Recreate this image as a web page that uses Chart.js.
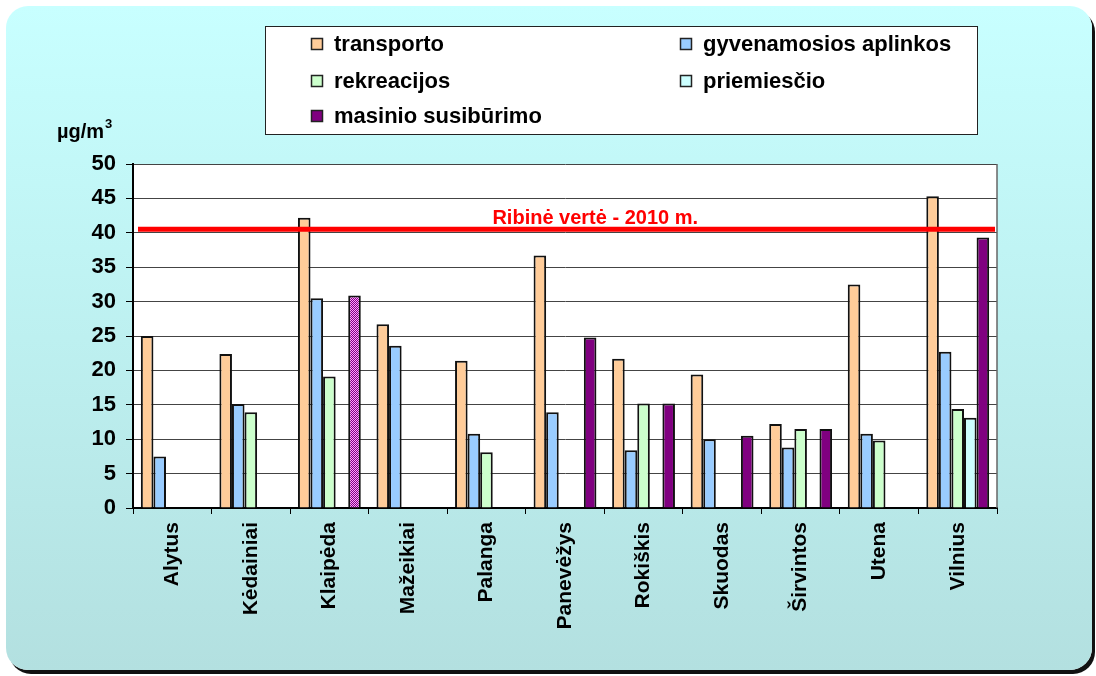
<!DOCTYPE html>
<html>
<head>
<meta charset="utf-8">
<script src="https://cdn.jsdelivr.net/npm/chart.js@4.4.1/dist/chart.umd.min.js"></script>
<style>
  html, body { margin: 0; padding: 0; background: #fff; }
  #wrap { position: relative; width: 1096px; height: 676px; overflow: hidden; }
  #frame {
    position: absolute; left: 6px; top: 6px; width: 1086px; height: 664px;
    border-radius: 22px;
    background: linear-gradient(to bottom, #c8ffff 0%, #bdf0f0 50%, #b3e0e0 100%);
    box-shadow: 3px 4px 0 #111;
  }
  #myChart { position: absolute; left: 0; top: 0; }
</style>
</head>
<body>
<div id="wrap">
  <div id="frame"></div>
  <canvas id="myChart" width="1096" height="676"></canvas>
</div>
<script>
const cities = ['Alytus', 'Kėdainiai', 'Klaipėda', 'Mažeikiai', 'Palanga', 'Panevėžys', 'Rokiškis', 'Skuodas', 'Širvintos', 'Utena', 'Vilnius'];
const transporto = [25.0, 22.4, 42.2, 26.7, 21.4, 36.7, 21.7, 19.4, 12.2, 32.5, 45.3];
const gyvenamosios = [7.5, 15.1, 30.5, 23.6, 10.8, 13.9, 8.4, 10.0, 8.8, 10.8, 22.7];
const rekreacijos = [null, 13.9, 19.1, null, 8.1, null, 15.2, null, 11.5, 9.8, 14.4];
const priemiescio = [null, null, null, null, null, null, null, null, null, null, 13.1];
const masinio = [null, null, 30.9, null, null, 24.8, 15.2, 10.5, 11.5, null, 39.3];
const yTicks = [0, 5, 10, 15, 20, 25, 30, 35, 40, 45, 50];
const limitValue = 40.5;
const limitLabel = 'Ribinė vertė - 2010 m.';
const unitLabel = 'µg/m';
const hatchedIndex = 2; // Klaipėda masinio bar is hatched

Chart.defaults.font.family = '"Liberation Sans", Arial, sans-serif';
Chart.defaults.color = '#000';

// checker pattern for the hatched bar
function makeHatch() {
  const c = document.createElement('canvas');
  c.width = 2; c.height = 2;
  const g = c.getContext('2d');
  g.fillStyle = '#800080'; g.fillRect(0, 0, 2, 2);
  g.fillStyle = '#ff9cff'; g.fillRect(0, 0, 1, 1); g.fillRect(1, 1, 1, 1);
  return g.createPattern(c, 'repeat');
}
const hatch = makeHatch();

const colors = ['#ffcc99', '#99ccff', '#ccffcc', '#ccffff', '#800080'];

const chartDecor = {
  id: 'chartDecor',
  beforeDraw(chart) {
    const { ctx, chartArea: a } = chart;
    ctx.save();
    ctx.fillStyle = '#fff';
    ctx.fillRect(a.left, a.top, a.right - a.left, a.bottom - a.top);
    ctx.restore();
  },
  beforeDatasetsDraw(chart) {
    const { ctx, chartArea: a } = chart;
    ctx.save();
    ctx.strokeStyle = '#666';
    ctx.lineWidth = 1.5;
    ctx.beginPath();
    ctx.moveTo(a.right, a.top);
    ctx.lineTo(a.right, a.bottom);
    ctx.stroke();
    ctx.restore();
  },
  afterDatasetsDraw(chart) {
    const { ctx, chartArea: a, scales } = chart;
    const y = scales.y.getPixelForValue(limitValue);
    ctx.save();
    ctx.strokeStyle = '#ff0000';
    ctx.lineWidth = 5;
    ctx.beginPath();
    ctx.moveTo(a.left + 5, y);
    ctx.lineTo(a.right - 2, y);
    ctx.stroke();
    ctx.fillStyle = '#ff0000';
    ctx.font = 'bold 20px "Liberation Sans", Arial, sans-serif';
    ctx.textAlign = 'center';
    ctx.textBaseline = 'alphabetic';
    ctx.fillText(limitLabel, a.left + (a.right - a.left) * 0.535, y - 5);

    // unit label
    ctx.fillStyle = '#000';
    ctx.textAlign = 'left';
    ctx.font = 'bold 20px "Liberation Sans", Arial, sans-serif';
    ctx.fillText(unitLabel, 57, 138);
    const w = ctx.measureText(unitLabel).width;
    ctx.font = 'bold 13px "Liberation Sans", Arial, sans-serif';
    ctx.fillText('3', 57 + w + 1, 128);

    // legend box
    ctx.fillStyle = '#fff';
    ctx.fillRect(265, 26, 713, 109);
    ctx.strokeStyle = '#222';
    ctx.lineWidth = 1;
    ctx.strokeRect(265.5, 26.5, 712, 108);
    const pos = [[311, 44], [680, 44], [311, 81], [680, 81], [311, 116]];
    ctx.font = 'bold 22px "Liberation Sans", Arial, sans-serif';
    ctx.textBaseline = 'middle';
    chart.data.datasets.forEach((ds, i) => {
      const [x, cy] = pos[i];
      ctx.fillStyle = colors[i];
      ctx.fillRect(x, cy - 6, 12, 12);
      ctx.strokeStyle = '#222';
      ctx.lineWidth = 1.5;
      ctx.strokeRect(x + 0.5, cy - 5.5, 11, 11);
      ctx.fillStyle = '#000';
      ctx.fillText(ds.label, x + 23, cy + 1);
    });
    ctx.restore();
  }
};

function ds(label, data, i) {
  return {
    label: label,
    data: data,
    backgroundColor: i === 4 ? (c) => (c.dataIndex === hatchedIndex ? hatch : colors[i]) : colors[i],
    borderColor: '#111',
    borderWidth: 2,
    borderSkipped: 'bottom',
    categoryPercentage: 0.8,
    barPercentage: 1.0
  };
}

const config = {
  type: 'bar',
  data: {
    labels: cities,
    datasets: [
      ds('transporto', transporto, 0),
      ds('gyvenamosios aplinkos', gyvenamosios, 1),
      ds('rekreacijos', rekreacijos, 2),
      ds('priemiesčio', priemiescio, 3),
      ds('masinio susibūrimo', masinio, 4)
    ]
  },
  options: {
    responsive: false,
    animation: false,
    layout: { padding: { left: 0, top: 164, right: 99, bottom: 0 } },
    plugins: {
      legend: { display: false },
      title: { display: false },
      tooltip: { enabled: false }
    },
    scales: {
      x: {
        afterFit(scale) { scale.height = 168; },
        ticks: {
          maxRotation: 90, minRotation: 90, autoSkip: false,
          font: { size: 21, weight: 'bold' }, padding: 8, color: '#000'
        },
        grid: { drawOnChartArea: false, tickLength: 6, color: '#000', offset: true },
        border: { color: '#000', width: 2 }
      },
      y: {
        min: 0, max: 50,
        afterFit(scale) { scale.width = 133; },
        afterBuildTicks(scale) { scale.ticks = yTicks.map(v => ({ value: v })); },
        ticks: { font: { size: 22, weight: 'bold' }, padding: 10, color: '#000' },
        grid: { color: '#444', lineWidth: 1, tickLength: 7, tickColor: '#000' },
        border: { color: '#000', width: 2 }
      }
    }
  },
  plugins: [chartDecor]
};

const ctx = document.getElementById('myChart').getContext('2d');
new Chart(ctx, config);
</script>
</body>
</html>
